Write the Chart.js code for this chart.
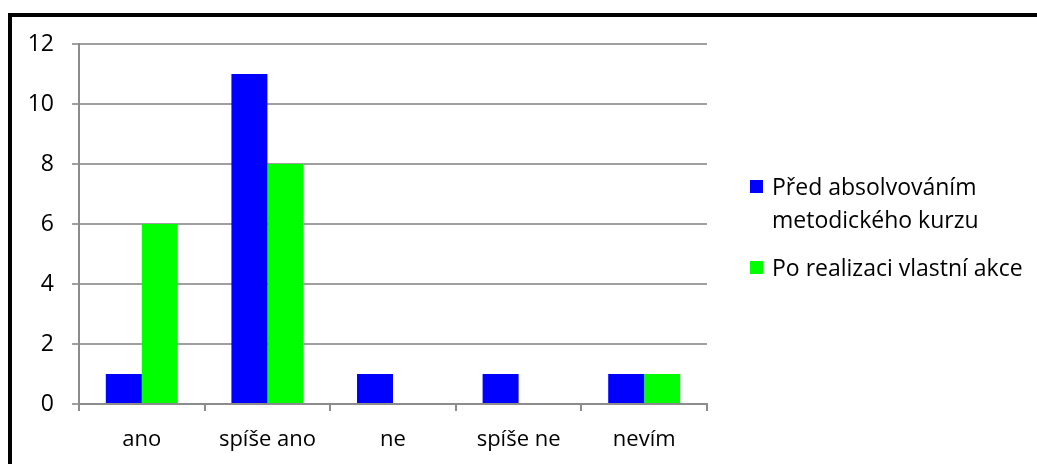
<!DOCTYPE html>
<html>
<head>
<meta charset="utf-8">
<script src="https://cdn.jsdelivr.net/npm/chart.js@4"></script>
<style>
  body { margin: 0; background: #fff; width: 1037px; height: 464px; overflow: hidden; position: relative; font-family: "Open Sans", sans-serif; }
  #frame { position: absolute; left: 8px; top: 13px; width: 1040px; height: 470px; border-left: 4px solid #000; border-top: 4px solid #000; box-sizing: border-box; }
  #wrap { position: absolute; left: 0; top: 0; width: 1037px; height: 464px; }
  .leg { position: absolute; left: 750px; font-size: 23px; color: #000; line-height: 33px; }
  .leg .sw { position: absolute; left: 0; width: 13px; height: 13px; }
  .leg .tx { position: absolute; left: 22px; white-space: nowrap; }
</style>
</head>
<body>
<div id="frame"></div>
<div id="wrap"><canvas id="barChart" width="1037" height="464"></canvas></div>
<div class="leg" style="top:170px"><div class="sw" style="top:10px;background:#0000ff"></div><div class="tx">Před absolvováním<br>metodického kurzu</div></div>
<div class="leg" style="top:251px"><div class="sw" style="top:10px;background:#00ff00"></div><div class="tx">Po realizaci vlastní akce</div></div>
<script>
//kategorie odpovedi
var labels = ["ano", "spíše ano", "ne", "spíše ne", "nevím"];
var predKurzem = [1, 11, 1, 1, 1];
var poAkci = [6, 8, 0, 0, 1];
var yTicks = [0, 2, 4, 6, 8, 10, 12];

var ctx = document.getElementById("barChart").getContext('2d');
var myBarChart = new Chart(ctx, {
type: 'bar',
data: {
labels: labels,
datasets: [{
label: "Před absolvováním metodického kurzu",
data: predKurzem,
backgroundColor: '#0000ff',
borderWidth: 0
},
{
label: "Po realizaci vlastní akce",
data: poAkci,
backgroundColor: '#00ff00',
borderWidth: 0
}
]
},
options: {
responsive: false,
animation: false,
layout: { padding: { left: 0, top: 44, right: 330, bottom: 0 } },
plugins: { legend: { display: false }, tooltip: { enabled: false } },
datasets: { bar: { categoryPercentage: 0.573, barPercentage: 1 } },
scales: {
x: {
grid: { offset: true, drawOnChartArea: false, drawTicks: true, tickLength: 7, color: '#8c8c8c', lineWidth: 2 },
border: { color: '#8c8c8c', width: 2 },
ticks: { color: '#000', font: { family: 'Open Sans', size: 22 }, padding: 16 },
afterFit: function(s) { s.height = 60; }
},
y: {
min: 0, max: 12,
afterBuildTicks: function(s) { s.ticks = yTicks.map(function(v) { return { value: v }; }); },
grid: { drawTicks: true, tickLength: 7, color: '#a0a0a0', lineWidth: 2 },
border: { color: '#8c8c8c', width: 2 },
ticks: { color: '#000', font: { family: 'Open Sans', size: 23 }, padding: 18 },
afterFit: function(s) { s.width = 79; }
}
}
}
});
</script>
</body>
</html>
